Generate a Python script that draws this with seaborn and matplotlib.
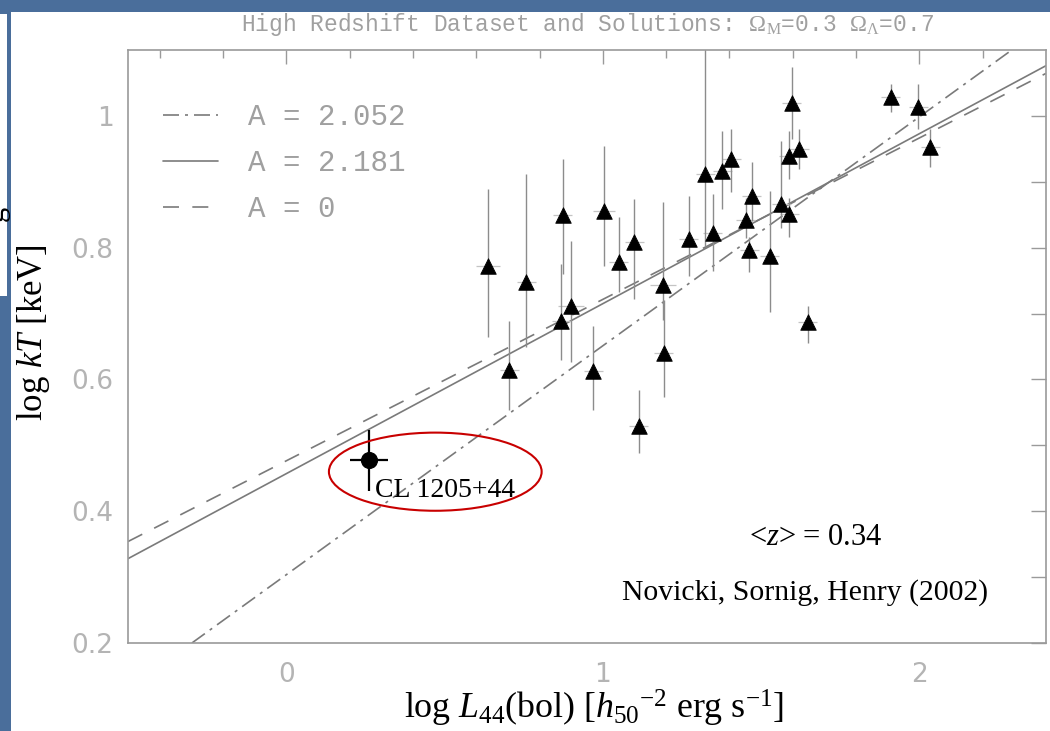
import matplotlib
matplotlib.use('Agg')
import matplotlib.pyplot as plt
import seaborn as sns
import numpy as np
import pandas as pd
from matplotlib.patches import Ellipse, Rectangle

# ---------------- data ----------------
lum = [0.636, 0.758, 0.705, 0.873, 0.869, 0.899, 0.969, 1.003, 1.050, 1.100,
       1.1135, 1.190, 1.193, 1.272, 1.323, 1.348, 1.378, 1.406, 1.471, 1.452,
       1.462, 1.528, 1.563, 1.589, 1.588, 1.597, 1.620, 1.910, 1.997, 2.035,
       1.648]
kt = [0.772, 0.748, 0.615, 0.849, 0.689, 0.712, 0.613, 0.855, 0.778, 0.808,
      0.530, 0.743, 0.640, 0.813, 0.912, 0.822, 0.917, 0.934, 0.879, 0.842,
      0.797, 0.787, 0.866, 0.851, 0.939, 1.020, 0.949, 1.029, 1.014, 0.953,
      0.687]
kt_lo = [0.665, 0.650, 0.554, 0.760, 0.630, 0.627, 0.554, 0.772, 0.732, 0.722,
         0.489, 0.690, 0.574, 0.757, 0.802, 0.764, 0.859, 0.884, 0.840, 0.815,
         0.763, 0.702, 0.830, 0.816, 0.904, 0.965, 0.919, 1.006, 0.980, 0.922,
         0.656]
kt_hi = [0.889, 0.912, 0.688, 0.935, 0.775, 0.810, 0.681, 0.954, 0.846, 0.874,
         0.584, 0.869, 0.720, 0.878, 1.120, 0.881, 0.977, 0.980, 0.930, 0.875,
         0.816, 0.886, 0.962, 0.875, 0.977, 1.074, 0.980, 1.049, 1.049, 0.980,
         0.711]
lum_err = [0.038, 0.030, 0.030, 0.030, 0.030, 0.040, 0.030, 0.035, 0.030, 0.030,
           0.030, 0.040, 0.030, 0.030, 0.030, 0.030, 0.030, 0.030, 0.030, 0.030,
           0.030, 0.030, 0.030, 0.030, 0.030, 0.030, 0.030, 0.030, 0.030, 0.030,
           0.030]

cl_lum = [0.26]
cl_kt = [0.477]
cl_lum_err = [[0.06], [0.062]]
cl_kt_err = [[0.047], [0.047]]
cl_label = "CL 1205+44"

fit_labels = ["A = 2.052", "A = 2.181", "A = 0"]
fit_intercepts = [0.3036, 0.457, 0.4765]
fit_slopes = [0.3475, 0.258, 0.245]

title = r"High Redshift Dataset and Solutions: $\Omega_{\mathrm{M}}$=0.3 $\Omega_{\Lambda}$=0.7"
xlabel = r"log $L_{44}$(bol) [$h_{50}{}^{-2}$ erg s$^{-1}$]"
ylabel = r"log $kT$ [keV]"
zlabel = r"<$z$> = 0.34"
cite = "Novicki, Sornig, Henry (2002)"

yticks = [0.2, 0.4, 0.6, 0.8, 1.0]
yticklabels = ["0.2", "0.4", "0.6", "0.8", "1"]
xticks = [0, 1, 2]
xticklabels = ["0", "1", "2"]

# ---------------- style ----------------
sns.set_theme(style='white')
plt.rcParams['font.family'] = ['DejaVu Sans']
plt.rcParams['mathtext.fontset'] = 'custom'
plt.rcParams['mathtext.rm'] = 'Liberation Serif'
plt.rcParams['mathtext.it'] = 'Liberation Serif:italic'
plt.rcParams['mathtext.bf'] = 'Liberation Serif:bold'

W, H = 1050, 731
fig = plt.figure(figsize=(W / 100, H / 100), dpi=100, facecolor='#4a6e9b')
# white slide panel
fig.add_artist(Rectangle((11 / W, 0), 1 - 11 / W, 1 - 12 / H, transform=fig.transFigure,
                         facecolor='white', edgecolor='none', zorder=-2))
# small overlapping white box at the left edge
fig.add_artist(Rectangle((0, 1 - 296 / H), 7 / W, (296 - 14) / H, transform=fig.transFigure,
                         facecolor='white', edgecolor='none', zorder=-1))
fig.text(-5 / W, 1 - 213 / H, "g", rotation=90, fontsize=22, family='Liberation Serif',
         color='black', ha='center', va='center')

ax = fig.add_axes([128 / W, 1 - 643 / H, (1046 - 128) / W, (643 - 50) / H])
ax.set_facecolor('white')

# fit lines
line_styles = [(0, (9.6, 3.6, 1.8, 3.6)), '-', (0, (9.6, 8.0))]
for lab, a, b, ls in zip(fit_labels, fit_intercepts, fit_slopes, line_styles):
    ax.axline((0, a), slope=b, color='#7a7a7a', lw=1.2, ls=ls, label=lab, zorder=1)

# error bars for the sample
kt_a = np.array(kt)
ax.errorbar(lum, kt, xerr=lum_err, fmt='none', ecolor='#c4c4c4', elinewidth=0.9,
            capsize=0, zorder=2)
ax.errorbar(lum, kt, yerr=[kt_a - np.array(kt_lo), np.array(kt_hi) - kt_a], fmt='none',
            ecolor='#8c8c8c', elinewidth=1.0, capsize=0, zorder=2)

df = pd.DataFrame({'lum': lum, 'kt': kt})
sns.scatterplot(data=df, x='lum', y='kt', marker='^', s=125, color='black',
                edgecolor='black', linewidth=0.6, ax=ax, zorder=3, legend=False)

# CL 1205+44
ax.errorbar(cl_lum, cl_kt, xerr=cl_lum_err, yerr=cl_kt_err, fmt='none', ecolor='black',
            elinewidth=1.6, capsize=0, zorder=4)
sns.scatterplot(x=cl_lum, y=cl_kt, marker='o', s=130, color='black', edgecolor='black',
                ax=ax, zorder=5, legend=False)
ax.text(0.279, 0.422, cl_label, family='Liberation Serif', fontsize=20, color='black',
        ha='left', va='baseline', zorder=6)
ax.add_patch(Ellipse((0.4707, 0.46), 0.672, 0.1186, fill=False, edgecolor='#c80000',
                     lw=1.5, zorder=6))

ax.text(1.461, 0.349, zlabel, family='Liberation Serif', fontsize=22, color='black',
        ha='left', va='baseline')
ax.text(1.062, 0.2654, cite, family='Liberation Serif', fontsize=21.4, color='black',
        ha='left', va='baseline')

# axes
ax.set_xlim(-0.5, 2.4)
ax.set_ylim(0.2, 1.1)
ax.set_xticks(xticks)
ax.set_xticklabels(xticklabels)
ax.set_xticks([-0.4, -0.2, 0.2, 0.4, 0.6, 0.8, 1.2, 1.4, 1.6, 1.8, 2.2], minor=True)
ax.set_yticks(yticks)
ax.set_yticklabels(yticklabels)
ax.set_yticks([0.3, 0.5, 0.7, 0.9], minor=True)

ax.tick_params(which='both', direction='in', top=True, right=True, color='#9a9a9a', width=1.0)
ax.tick_params(axis='x', which='major', length=10, pad=13.5, labelsize=19, labelcolor='#b4b4b4')
ax.tick_params(axis='x', which='minor', length=5.5)
ax.tick_params(axis='y', which='both', length=10.5, pad=10.5, labelsize=19, labelcolor='#b4b4b4')
for sp in ax.spines.values():
    sp.set_color('#9a9a9a')
    sp.set_linewidth(1.2)
    sp.set_visible(True)

ax.set_title(title, family='Liberation Mono', fontsize=16.5, color='#a0a0a0', pad=14)
ax.set_xlabel(xlabel, family='Liberation Serif', fontsize=25.8, color='black')
ax.xaxis.set_label_coords(0.5076, -0.076)
ax.set_ylabel(ylabel, family='Liberation Serif', fontsize=25, color='black')
ax.yaxis.set_label_coords(-0.0825, 0.524)

leg = ax.legend(loc='upper left', bbox_to_anchor=(0.038, 0.911), frameon=False,
                prop={'family': 'Liberation Mono', 'size': 21}, handlelength=1.9,
                handletextpad=1.03, labelspacing=0.62, borderpad=0, borderaxespad=0)
for t in leg.get_texts():
    t.set_color('#a0a0a0')

fig.savefig('out.png', dpi=100, facecolor=fig.get_facecolor())
